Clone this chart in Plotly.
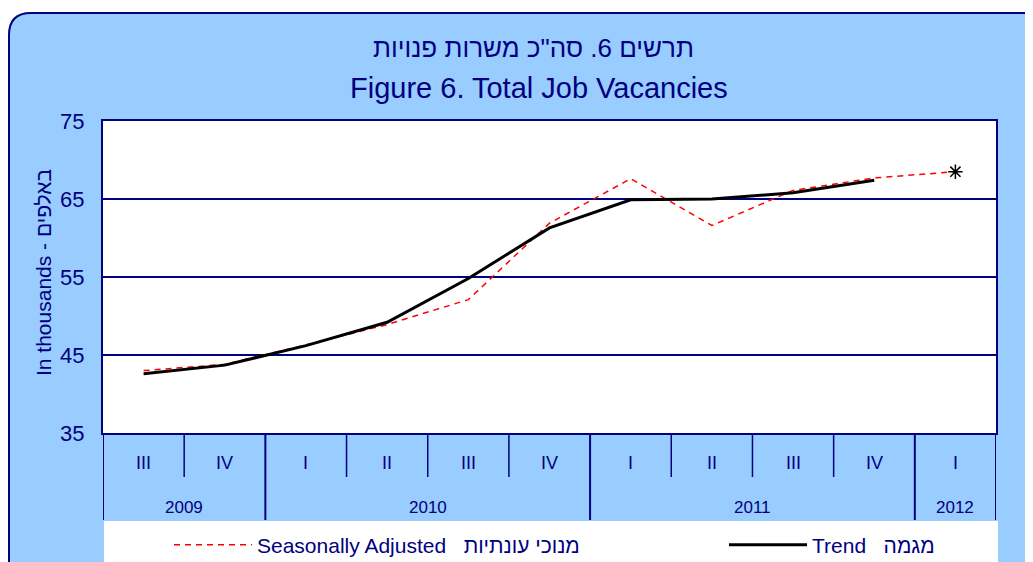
import plotly.graph_objects as go

# ---------------- data ----------------
years = ["2009", "2009", "2010", "2010", "2010", "2010", "2011", "2011", "2011", "2011", "2012"]
quarters = ["III", "IV", "I", "II", "III", "IV", "I", "II", "III", "IV", "I"]
seasonally_adjusted = [43.0, 43.8, 46.3, 48.9, 52.1, 61.9, 67.6, 61.6, 66.1, 67.7, 68.5]
trend = [42.6, 43.7, 46.2, 49.2, 54.8, 61.3, 64.9, 65.0, 65.8, 67.4, None]
y_ticks = [35, 45, 55, 65, 75]

title_he = 'תרשים 6. סה"כ משרות פנויות'
title_en = "Figure 6. Total Job Vacancies"
y_title = "In thousands - באלפים"
sa_name = "Seasonally Adjusted\u00a0\u00a0 מנוכי עונתיות"
trend_name = "Trend\u00a0\u00a0 מגמה"

# ---------------- style ----------------
NAVY = "#000080"
LIGHT_BLUE = "#99CCFF"
FONT = "Liberation Sans, Arial, DejaVu Sans, sans-serif"
OFF = 8                      # page body margin
W, H = 1033 - OFF, 562 - OFF
L, R, T, B = 103, 996, 121, 433   # plot area in screen pixels


def px(x):
    return (x - L) / (R - L)


def py(y):
    return (B - y) / (B - T)


idx = list(range(len(quarters)))

fig = go.Figure()
fig.add_trace(go.Scatter(
    x=idx, y=seasonally_adjusted, mode="lines", name=sa_name, legend="legend",
    line=dict(color="#FF0000", width=1.5, dash="6px,5px"),
))
fig.add_trace(go.Scatter(
    x=idx, y=trend, mode="lines", name=trend_name, legend="legend2",
    line=dict(color="#000000", width=3),
))
fig.add_trace(go.Scatter(
    x=[idx[-1]], y=[seasonally_adjusted[-1]], mode="markers", showlegend=False,
    marker=dict(symbol="asterisk-open", size=12, color="black",
                line=dict(color="black", width=1.5)),
))

shapes = []
# rounded light-blue panel
x0, x1, y0, y1 = px(9), px(1044), py(620), py(13)
rx, ry = 22 / (R - L), 22 / (B - T)
path = (f"M {x0},{y0} L {x0},{y1 - ry} Q {x0},{y1} {x0 + rx},{y1} "
        f"L {x1 - rx},{y1} Q {x1},{y1} {x1},{y1 - ry} L {x1},{y0} Z")
shapes.append(dict(type="path", xref="paper", yref="paper", path=path,
                   fillcolor=LIGHT_BLUE, line=dict(color=NAVY, width=2), layer="below"))
# white plot area
shapes.append(dict(type="rect", xref="paper", yref="paper", x0=0, x1=1, y0=0, y1=1,
                   fillcolor="white", line=dict(width=0), layer="below"))
# white legend strip
shapes.append(dict(type="rect", xref="paper", yref="paper", x0=px(104), x1=px(998),
                   y0=py(640), y1=py(521), fillcolor="white", line=dict(width=0), layer="below"))

# category dividers below the axis
n = len(quarters)
for i in range(n + 1):
    is_year = i == 0 or i == n or years[i] != years[i - 1]
    shapes.append(dict(type="line", xref="x", yref="paper", x0=i - 0.5, x1=i - 0.5,
                       y0=0, y1=py(520 if is_year else 477),
                       line=dict(color=NAVY, width=2 if is_year else 1.5)))

annotations = []
# quarter labels
for i, q in enumerate(quarters):
    annotations.append(dict(x=i, y=py(463), xref="x", yref="paper", text=q, showarrow=False,
                            font=dict(family=FONT, size=18, color=NAVY), yanchor="middle"))
# year labels centred on their groups
groups = []
for i, yv in enumerate(years):
    if groups and groups[-1][0] == yv:
        groups[-1][2] = i
    else:
        groups.append([yv, i, i])
for yv, a, b in groups:
    annotations.append(dict(x=(a + b) / 2, y=py(507), xref="x", yref="paper", text=yv,
                            showarrow=False, yanchor="middle",
                            font=dict(family=FONT, size=17, color=NAVY)))
# titles
annotations.append(dict(x=px(533), y=py(48), xref="paper", yref="paper", text=title_he,
                        showarrow=False, yanchor="middle",
                        font=dict(family=FONT, size=26, color=NAVY)))
annotations.append(dict(x=px(539), y=py(88), xref="paper", yref="paper", text=title_en,
                        showarrow=False, yanchor="middle",
                        font=dict(family=FONT, size=29, color=NAVY)))
# y axis title
annotations.append(dict(x=px(43), y=py(273), xref="paper", yref="paper", text=y_title,
                        showarrow=False, textangle=-90, xanchor="center", yanchor="middle",
                        font=dict(family=FONT, size=21, color=NAVY)))

legend_common = dict(orientation="h", xanchor="left", yanchor="middle", y=py(545),
                     bgcolor="rgba(0,0,0,0)", font=dict(family=FONT, size=21, color=NAVY),
                     itemwidth=78)

fig.update_layout(
    width=W, height=H,
    margin=dict(l=L - OFF, r=W - (R - OFF), t=T - OFF, b=H - (B - OFF), pad=0,
                autoexpand=False),
    paper_bgcolor="white",
    plot_bgcolor="rgba(0,0,0,0)",
    shapes=shapes,
    annotations=annotations,
    showlegend=True,
    legend=dict(x=px(169), **legend_common),
    legend2=dict(x=px(724), **legend_common),
    xaxis=dict(range=[-0.5, n - 0.5], showticklabels=False, ticks="", showgrid=False,
               zeroline=False, showline=True, linecolor=NAVY, linewidth=2, mirror=True,
               fixedrange=True),
    yaxis=dict(range=[35, 75], tickvals=y_ticks, showgrid=True, gridcolor=NAVY, gridwidth=1.5,
               zeroline=False, showline=True, linecolor=NAVY, linewidth=2, mirror=True,
               ticks="", ticklabelstandoff=12,
               tickfont=dict(family=FONT, size=22, color=NAVY), fixedrange=True),
)

fig.write_html("out.html")
